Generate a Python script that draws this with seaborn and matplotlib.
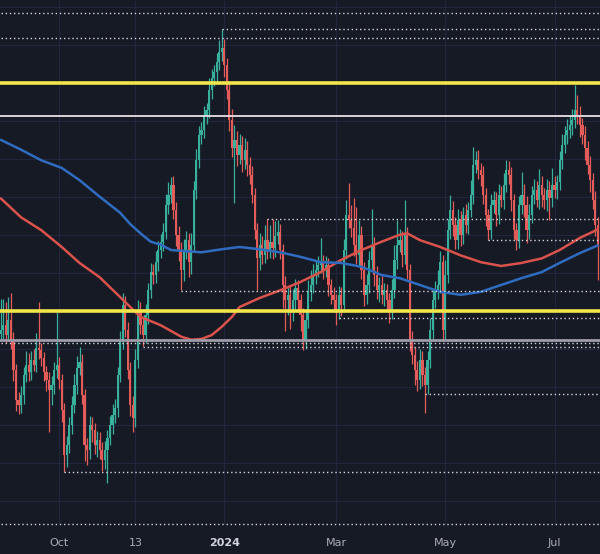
import numpy as np
import pandas as pd
import matplotlib
matplotlib.use("Agg")
import matplotlib.pyplot as plt
import seaborn as sns

# ---------------- data (AUD/USD-like daily, values in pips = price*10000) -------------
dates = pd.bdate_range("2023-08-30", periods=236)
first_open = 6470
close_pips = [
    6475, 6481, 6468, 6488, 6462, 6422, 6383, 6376, 6389, 6416,
    6429, 6419, 6435, 6429, 6451, 6448, 6438, 6419, 6409, 6396,
    6402, 6422, 6429, 6409, 6369, 6310, 6323, 6350, 6376, 6402,
    6425, 6433, 6389, 6323, 6317, 6350, 6343, 6323, 6330, 6317,
    6304, 6317, 6333, 6350, 6363, 6372, 6416, 6462, 6508, 6475,
    6422, 6376, 6359, 6435, 6501, 6481, 6468, 6494, 6527, 6551,
    6547, 6564, 6580, 6591, 6604, 6639, 6652, 6666, 6633, 6600,
    6580, 6554, 6580, 6593, 6564, 6587, 6659, 6698, 6731, 6738,
    6758, 6764, 6791, 6806, 6814, 6827, 6841, 6846, 6823, 6791,
    6751, 6714, 6725, 6705, 6718, 6698, 6712, 6692, 6679, 6652,
    6606, 6569, 6587, 6573, 6593, 6580, 6591, 6583, 6598, 6604,
    6580, 6534, 6514, 6521, 6501, 6514, 6530, 6514, 6494, 6462,
    6488, 6525, 6534, 6547, 6554, 6560, 6564, 6554, 6560, 6534,
    6521, 6514, 6501, 6521, 6508, 6580, 6626, 6619, 6609, 6587,
    6573, 6600, 6554, 6521, 6534, 6567, 6587, 6547, 6527, 6534,
    6521, 6527, 6514, 6501, 6527, 6567, 6587, 6593, 6573, 6600,
    6554, 6462, 6442, 6422, 6409, 6435, 6416, 6402, 6435, 6475,
    6514, 6527, 6534, 6564, 6475, 6547, 6606, 6633, 6613, 6593,
    6619, 6600, 6626, 6613, 6633, 6652, 6692, 6698, 6685, 6679,
    6652, 6626, 6606, 6639, 6646, 6626, 6652, 6646, 6666, 6685,
    6679, 6646, 6606, 6593, 6639, 6652, 6639, 6606, 6626, 6652,
    6659, 6646, 6666, 6652, 6646, 6659, 6648, 6666, 6659, 6669,
    6698, 6718, 6731, 6738, 6744, 6751, 6764, 6758, 6744, 6731,
    6714, 6692, 6672, 6646, 6613, 6587,
]
upper_wick = [
    40, 35, 30, 30, 35, 10, 8, 10, 12, 10,
    18, 15, 12, 15, 20, 60, 10, 8, 8, 10,
    12, 10, 69, 10, 8, 10, 12, 10, 12, 15,
    15, 20, 10, 8, 10, 12, 10, 10, 12, 10,
    10, 12, 10, 12, 15, 12, 10, 12, 15, 12,
    10, 10, 12, 15, 13, 10, 12, 15, 10, 12,
    10, 15, 12, 10, 12, 15, 18, 10, 12, 10,
    12, 10, 15, 12, 10, 15, 12, 15, 12, 10,
    12, 10, 15, 12, 10, 12, 15, 25, 12, 10,
    12, 15, 20, 12, 15, 12, 15, 12, 10, 12,
    10, 10, 15, 12, 20, 28, 22, 30, 20, 15,
    10, 8, 12, 10, 12, 15, 12, 10, 8, 10,
    12, 15, 20, 15, 12, 12, 32, 10, 12, 10,
    8, 10, 8, 12, 10, 15, 20, 42, 20, 40,
    50, 20, 12, 10, 15, 12, 47, 10, 12, 10,
    12, 10, 8, 10, 15, 20, 32, 15, 12, 46,
    10, 8, 12, 10, 12, 15, 12, 10, 12, 15,
    15, 12, 20, 15, 10, 20, 15, 20, 12, 10,
    15, 12, 10, 15, 10, 20, 24, 12, 14, 10,
    12, 10, 8, 15, 12, 10, 15, 12, 15, 13,
    12, 10, 8, 10, 12, 31, 15, 12, 15, 12,
    15, 12, 20, 12, 10, 15, 12, 22, 12, 10,
    12, 15, 12, 15, 12, 15, 33, 20, 12, 10,
    12, 10, 12, 10, 12, 10,
]
lower_wick = [
    10, 12, 10, 8, 12, 15, 15, 12, 10, 12,
    10, 12, 10, 8, 10, 12, 10, 12, 15, 55,
    20, 12, 10, 12, 15, 22, 15, 10, 12, 10,
    12, 10, 12, 20, 20, 12, 15, 12, 15, 12,
    15, 12, 44, 10, 12, 10, 12, 10, 12, 10,
    12, 15, 19, 12, 10, 12, 14, 10, 12, 10,
    12, 10, 12, 10, 12, 10, 12, 10, 12, 15,
    15, 27, 15, 12, 20, 15, 10, 12, 10, 12,
    10, 12, 10, 12, 10, 12, 10, 12, 15, 12,
    15, 12, 72, 15, 12, 15, 12, 15, 12, 10,
    12, 42, 15, 12, 10, 12, 10, 15, 12, 10,
    12, 30, 40, 20, 25, 15, 12, 15, 20, 14,
    12, 10, 12, 10, 12, 10, 10, 12, 10, 15,
    12, 15, 20, 12, 15, 10, 12, 10, 12, 15,
    12, 15, 12, 15, 12, 10, 12, 15, 12, 15,
    12, 15, 12, 17, 12, 10, 12, 10, 15, 12,
    12, 15, 12, 20, 15, 12, 15, 37, 12, 10,
    12, 10, 12, 10, 15, 12, 10, 12, 15, 12,
    12, 15, 12, 10, 12, 10, 12, 10, 12, 15,
    12, 15, 13, 12, 10, 15, 12, 10, 12, 10,
    12, 15, 12, 13, 10, 12, 15, 17, 12, 10,
    12, 10, 12, 15, 12, 15, 29, 12, 10, 12,
    10, 12, 10, 12, 10, 12, 10, 12, 15, 12,
    15, 12, 15, 12, 15, 47,
]

# moving averages read at sampled bars
ma100_idx = [0, 8, 16, 24, 31, 39, 47, 55, 63, 71, 75, 79, 83, 87, 91, 94, 102, 110,
             118, 126, 134, 142, 150, 157, 160, 165, 173, 181, 189, 197, 205, 213,
             220, 228, 235]
ma100 = [6648, 6623, 6606, 6584, 6563, 6544, 6518, 6492, 6481, 6466, 6462, 6463,
         6468, 6479, 6492, 6505, 6517, 6527, 6538, 6551, 6567, 6580, 6591, 6600,
         6602, 6593, 6584, 6573, 6564, 6559, 6563, 6569, 6580, 6596, 6607]
ma200_idx = [0, 8, 16, 24, 31, 39, 47, 51, 55, 59, 63, 67, 71, 79, 87, 94, 102, 110,
             118, 126, 134, 142, 150, 157, 165, 173, 181, 189, 197, 205, 213, 220,
             228, 235]
ma200 = [6725, 6712, 6698, 6688, 6672, 6650, 6629, 6614, 6602, 6591, 6587, 6580,
         6579, 6577, 6581, 6584, 6581, 6577, 6571, 6564, 6563, 6558, 6547, 6543,
         6534, 6525, 6521, 6525, 6534, 6543, 6551, 6563, 6576, 6586]

# time axis labels
tick_dates = ["2023-10-02", "2023-11-13", "2024-01-01", "2024-03-01", "2024-05-01", "2024-07-01"]
tick_labels = ["Oct", "13", "2024", "Mar", "May", "Jul"]

# drawn levels
yellow_levels = [6800, 6500]
white_level = 6756
gray_level = 6462
dotted_levels = [6892, 6859, 6871, 6621, 6593, 6526, 6491, 6458, 6453, 6390, 6288, 6219]
dotted_start = [0, 0, 87, 105, 192, 71, 133, 0, 56, 167, 25, 0]

# ---------------- build ----------------
P = 1e-4
c = np.array(close_pips) * P
o = np.r_[first_open, close_pips[:-1]] * P
hi = np.maximum(o, c) + np.array(upper_wick) * P
lo = np.minimum(o, c) - np.array(lower_wick) * P
x = np.arange(len(c))

sns.set_theme(style="dark")
BG = "#161a25"
GRID = "#22263a"
UP = "#38b09b"
DN = "#e45c5a"

fig = plt.figure(figsize=(6.0, 5.54), dpi=100, facecolor=BG)
ax = fig.add_axes([0, 0, 1, 1])
ax.set_facecolor(BG)

pos = {d: i for i, d in enumerate(dates)}
tick_x = [pos[pd.Timestamp(d)] if pd.Timestamp(d) in pos else
          int(np.searchsorted(dates, pd.Timestamp(d))) for d in tick_dates]

# grid
for g in np.arange(6250, 6901, 50):
    ax.axhline(g * P, color=GRID, lw=0.8, zorder=0)
ax.vlines(tick_x, 6219 * P, 0.6909, color=GRID, lw=0.8, zorder=0)

# candles
cols = np.where(c >= o, UP, DN)
ax.vlines(x, lo, hi, colors=cols, lw=0.9, zorder=2)
ax.bar(x, np.maximum(np.abs(c - o), 0.6 * P), bottom=np.minimum(o, c),
       width=0.86, color=cols, linewidth=0, zorder=3)

# moving averages
df100 = pd.DataFrame({"idx": ma100_idx, "v": np.array(ma100) * P})
df200 = pd.DataFrame({"idx": ma200_idx, "v": np.array(ma200) * P})
sns.lineplot(data=df100, x="idx", y="v", ax=ax, color="#d9524c", lw=1.8, zorder=4, legend=False)
sns.lineplot(data=df200, x="idx", y="v", ax=ax, color="#2f6cc0", lw=1.8, zorder=4, legend=False)

# horizontal levels
for lv, st in zip(dotted_levels, dotted_start):
    ax.hlines(lv * P, st, 236.5, colors="#d6d6dc", linestyles=(0, (1, 2)), lw=1.0, zorder=5)
for lv in yellow_levels:
    ax.axhline(lv * P, color="#f3e64a", lw=2.6, zorder=6)
ax.axhline(white_level * P, color="#e9e1ea", lw=1.3, zorder=6)
ax.axhline(gray_level * P, color="#9d9ca8", lw=2.0, zorder=6)

# time axis labels
for tx, tl in zip(tick_x, tick_labels):
    bold = tl.isdigit() and len(tl) == 4
    ax.text(tx, 0.6194, tl, ha="center", va="center", fontsize=8,
            color="#d1d4dc" if bold else "#a9acb6",
            fontweight="bold" if bold else "normal", zorder=7)

ax.axis("off")
ax.set_xlim(-0.3, 235.9)
ax.set_ylim(0.6180, 0.6909)

fig.savefig("out.png", dpi=100, facecolor=BG)
